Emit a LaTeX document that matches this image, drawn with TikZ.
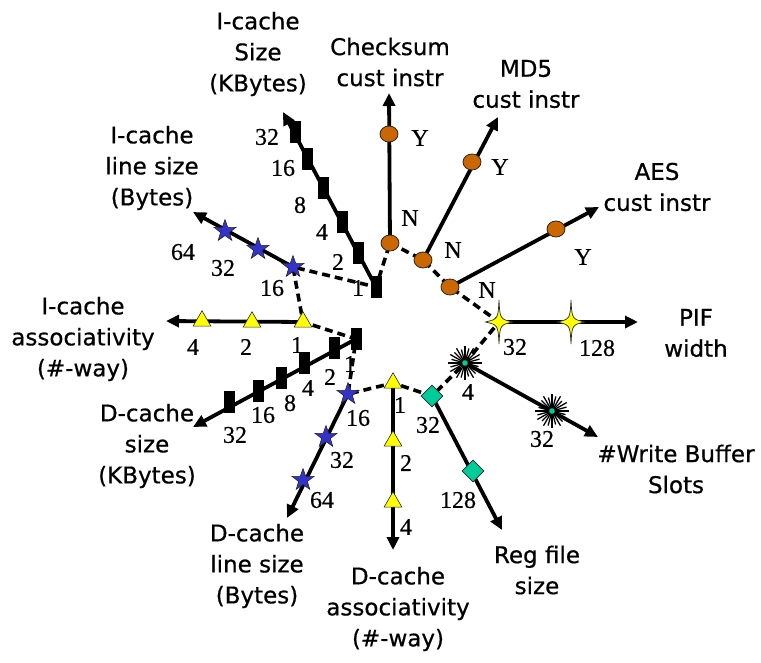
\documentclass[tikz,border=0pt]{standalone}
\usepackage{fontspec}
\setmainfont{Liberation Serif}[FakeBold=0.4]
\newfontfamily\labelfont{DejaVu Sans}[FakeBold=0.6]
\usetikzlibrary{shapes.geometric,arrows.meta,backgrounds}

\definecolor{knob}{RGB}{204,102,0}
\definecolor{starblue}{RGB}{51,51,204}
\definecolor{tri}{RGB}{255,255,0}
\definecolor{teal}{RGB}{0,204,153}
\definecolor{edge}{RGB}{40,40,40}

\tikzset{
  axis/.style={line width=3.8pt, -{Triangle[length=13pt,width=12pt]}},
  link/.style={line width=3.6pt, dash pattern=on 8pt off 5pt},
  yn/.style={ellipse, draw=edge, line width=0.8pt, fill=knob,
    minimum width=18pt, minimum height=16pt, inner sep=0pt},
  bstar/.style={star, star points=5, star point ratio=2.5, draw=edge,
    line width=0.6pt, fill=starblue, minimum size=23pt, inner sep=0pt},
  ytri/.style={regular polygon, regular polygon sides=3, draw=edge,
    line width=0.6pt, fill=tri, minimum size=20.5pt, inner sep=0pt},
  gem/.style={diamond, draw=edge, line width=0.6pt, fill=teal,
    minimum width=22pt, minimum height=22pt, inner sep=0pt},
  brick/.style={rectangle, fill=black, minimum width=11pt,
    minimum height=22pt, inner sep=0pt},
  core/.style={circle, fill=teal, draw=edge, line width=0.3pt,
    minimum size=6pt, inner sep=0pt},
  num/.style={font=\fontsize{24}{24}\selectfont, inner sep=0pt},
  lab/.style={font=\labelfont\fontsize{23}{31}\selectfont, align=center,
    inner sep=0pt},
  burst/.pic={
    \foreach \a/\r in {0/17,15/14,30/17,45/15,60/17,75/14,90/17,105/15,
                       120/17,135/14,150/17,165/15,180/17,195/14,210/17,
                       225/15,240/17,255/14,270/17,285/15,300/17,315/14,
                       330/17,345/15}
      \draw[line width=1.3pt] (0,0) -- (\a:\r);
  },
  sparkle/.pic={
    \filldraw[fill=tri, draw=edge, line width=0.7pt]
      (0,-22) .. controls (1,-3) .. (13.5,0)
              .. controls (1,3) .. (0,22)
              .. controls (-1,3) .. (-13.5,0)
              .. controls (-1,-3) .. cycle;
  }
}

\begin{document}
\begin{tikzpicture}[x=1pt,y=-1pt]
\useasboundingbox (0,0) rectangle (761,662);

% ---------- arrow tips of the axes ----------
\coordinate (ckT) at (389,93);
\coordinate (mdT) at (498,117);
\coordinate (aeT) at (599,207);
\coordinate (pfT) at (638,322);
\coordinate (wbT) at (598,437);
\coordinate (rfT) at (502,530);
\coordinate (daT) at (393,550);
\coordinate (dlT) at (287,518);
\coordinate (dsT) at (193,427);
\coordinate (iaT) at (166,321);
\coordinate (ilT) at (193,212);
\coordinate (isT) at (283,112);

% ---------- markers ----------
% custom instructions (N / Y)
\node[yn] (ckN) at (390,243) {};
\node[yn] (ckY) at (389,134) {};
\node[yn] (mdN) at (423,260) {};
\node[yn] (mdY) at (472,162) {};
\node[yn] (aeN) at (450,287) {};
\node[yn] (aeY) at (556,229) {};

% PIF width
\path (499,322) pic {sparkle} coordinate (pf32);
\path (571,322) pic {sparkle} coordinate (pf128);

% write buffer slots
\path (465,363) pic {burst} node[core] (wb4) {};
\path (552,411) pic {burst} node[core] (wb32) {};

% register file size
\node[gem] (rf32) at (432,396) {};
\node[gem] (rf128) at (473,471) {};

% D-cache associativity
\node[ytri] (da1) at (393,383) {};
\node[ytri] (da2) at (393,441) {};
\node[ytri] (da4) at (393,502) {};

% D-cache line size
\node[bstar] (dl16) at (348,394) {};
\node[bstar] (dl32) at (326,437) {};
\node[bstar] (dl64) at (303,480) {};

% D-cache size
\node[brick] (ds1) at (356,339) {};
\node[brick] (ds2) at (334,348) {};
\node[brick] (ds4) at (304,363) {};
\node[brick] (ds8) at (281,378) {};
\node[brick] (ds16) at (258,391) {};
\node[brick] (ds32) at (229,402) {};

% I-cache associativity
\node[ytri] (ia1) at (303,322) {};
\node[ytri] (ia2) at (252,322) {};
\node[ytri] (ia4) at (202,321) {};

% I-cache line size
\node[bstar] (il16) at (293,267) {};
\node[bstar] (il32) at (258,249) {};
\node[bstar] (il64) at (225,231) {};

% I-cache size
\node[brick] (is1) at (376,287) {};
\node[brick] (is2) at (358,253) {};
\node[brick] (is4) at (342,222) {};
\node[brick] (is8) at (323,188) {};
\node[brick] (is16) at (307,159) {};
\node[brick] (is32) at (295,132) {};

% ---------- axes and the dashed ring of base points ----------
\begin{pgfonlayer}{background}
  \draw[axis] (ckN.center) -- (ckT);
  \draw[axis] (mdN.center) -- (mdT);
  \draw[axis] (aeN.center) -- (aeT);
  \draw[axis] (pf32) -- (pfT);
  \draw[axis] (wb4.center) -- (wbT);
  \draw[axis] (rf32.center) -- (rfT);
  \draw[axis] (da1.center) -- (daT);
  \draw[axis] (dl16.center) -- (dlT);
  \draw[axis] (ds1.center) -- (dsT);
  \draw[axis] (ia1.center) -- (iaT);
  \draw[axis] (il16.center) -- (ilT);
  \draw[axis] (is1.center) -- (isT);

  \draw[link] (ckN.center) -- (mdN.center) -- (aeN.center) -- (pf32)
    -- (wb4.center) -- (rf32.center) -- (da1.center) -- (dl16.center)
    -- (ds1.center) -- (ia1.center) -- (il16.center) -- (is1.center)
    -- cycle;
\end{pgfonlayer}

% ---------- tick values ----------
\node[num] at (420,138) {Y};
\node[num] at (410,218) {N};
\node[num] at (500,167) {Y};
\node[num] at (453,250) {N};
\node[num] at (583,257) {Y};
\node[num] at (487,290) {N};

\node[num] at (515,347) {32};
\node[num] at (597,348) {128};

\node[num] at (468,392) {4};
\node[num] at (542,439) {32};

\node[num] at (428,425) {32};
\node[num] at (458,500) {128};

\node[num] at (400,405) {1};
\node[num] at (406,463) {2};
\node[num] at (406,527) {4};

\node[num] at (358,418) {16};
\node[num] at (342,460) {32};
\node[num] at (322,500) {64};

\node[num] at (350,364) {1};
\node[num] at (330,377) {2};
\node[num] at (308,388) {4};
\node[num] at (290,403) {8};
\node[num] at (263,415) {16};
\node[num] at (235,435) {32};

\node[num] at (297,345) {1};
\node[num] at (246,347) {2};
\node[num] at (193,347) {4};

\node[num] at (272,288) {16};
\node[num] at (223,268) {32};
\node[num] at (183,252) {64};

\node[num] at (358,288) {1};
\node[num] at (338,262) {2};
\node[num] at (322,232) {4};
\node[num] at (300,205) {8};
\node[num] at (283,168) {16};
\node[num] at (267,137) {32};

% ---------- axis titles ----------
\node[lab] at (258,54) {I-cache\\Size\\(KBytes)};
\node[lab] at (390,62) {Checksum\\cust instr};
\node[lab] at (526,84) {MD5\\cust instr};
\node[lab] at (657,187) {AES\\cust instr};
\node[lab] at (696,333) {PIF\\width};
\node[lab] at (676,469) {\#Write Buffer\\Slots};
\node[lab] at (537,570) {Reg file\\size};
\node[lab] at (398,609) {D-cache\\associativity\\(\#-way)};
\node[lab] at (257,566) {D-cache\\line size\\(Bytes)};
\node[lab] at (147,446) {D-cache\\size\\(KBytes)};
\node[lab] at (83,339) {I-cache\\associativity\\(\#-way)};
\node[lab] at (152,168) {I-cache\\line size\\(Bytes)};
\end{tikzpicture}
\end{document}
